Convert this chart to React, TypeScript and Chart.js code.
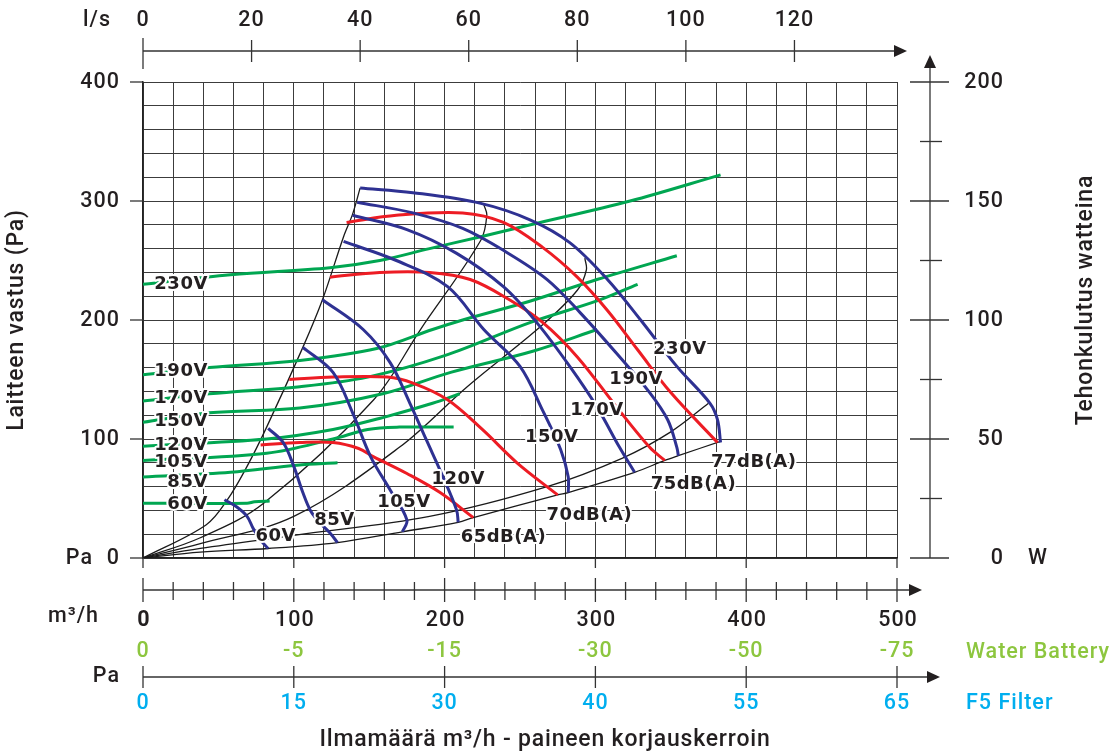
import React, { useEffect, useRef } from "react";
import { Chart, registerables } from "chart.js";

Chart.register(...registerables);

type Pt = [number, number];

// ---------- DATA (x = air flow m³/h, y = pressure Pa, green = power W) ----------
const BLUE_230V: Pt[] = [[144,311],[179,307],[224,298],[257,284],[283,265],[308,234],[330,200],[354,161],[376,130],[381,116],[383,97]];
const BLUE_190V: Pt[] = [[142,299],[179,290],[212,277],[241,257],[268,234],[290,206],[314,172],[336,139],[348,116],[354,93],[355,86]];
const BLUE_170V: Pt[] = [[139,288],[175,276],[208,256],[239,228],[261,198],[283,161],[301,127],[316,93],[326,72]];
const BLUE_150V: Pt[] = [[133,266],[168,250],[202,228],[226,192],[250,161],[265,124],[277,91],[282,68],[282,55]];
const BLUE_120V: Pt[] = [[119,217],[146,192],[164,164],[177,130],[188,99],[199,68],[208,40],[209,30]];
const BLUE_105V: Pt[] = [[106,177],[126,156],[139,122],[151,85],[164,57],[175,32],[172,22]];
const BLUE_85V: Pt[] = [[83,109],[93,97],[100,77],[106,55],[111,40],[117,30],[124,21],[129,13]];
const BLUE_60V: Pt[] = [[54,49],[62,43],[69,35],[73,25],[78,15],[83,8]];

const RED_77DB: Pt[] = [[135,282],[168,288],[212,290],[239,282],[265,261],[288,236],[308,208],[328,175],[350,139],[381,97]];
const RED_75DB: Pt[] = [[124,236],[157,240],[190,240],[217,234],[243,217],[265,198],[288,169],[314,127],[336,93],[346,82]];
const RED_70DB: Pt[] = [[97,150],[126,152],[162,152],[179,147],[202,133],[225,108],[248,80],[275,53]];
const RED_65DB: Pt[] = [[78,95],[104,97],[126,97],[143,92],[153,85],[175,71],[197,55],[219,34]];

const GREEN_230V: Pt[] = [[0,115],[58,119],[124,122],[157,125],[190,130],[224,135],[257,140],[323,150],[383,161]];
const GREEN_190V: Pt[] = [[0,77],[44,80],[104,83],[155,88],[192,96],[212,100],[257,108],[301,117],[354,127]];
const GREEN_170V: Pt[] = [[0,66],[44,69],[104,72],[149,76],[200,85],[257,99],[301,108],[328,115]];
const GREEN_150V: Pt[] = [[0,57],[44,61],[104,63],[159,69],[204,78],[259,87],[301,96]];
const GREEN_120V: Pt[] = [[0,47],[82,50],[126,54],[159,59],[192,65],[210,69]];
const GREEN_105V: Pt[] = [[0,41],[82,44],[126,50],[149,54],[170,55],[206,55]];
const GREEN_85V: Pt[] = [[0,34],[58,36],[102,39],[129,40]];
const GREEN_60V: Pt[] = [[0,23],[69,23],[74,23.6],[84,24]];

const SYS_1: Pt[] = [[0,0],[42,28],[56,49],[69,77],[82,110],[106,177],[119,217],[133,270],[139,289],[144,311]];
const SYS_2: Pt[] = [[0,0],[38,17],[80,46],[153,133],[184,192],[224,267],[228,288],[226,297]];
const SYS_3: Pt[] = [[0,0],[38,12],[100,35],[170,93],[215,144],[265,196],[288,225],[294,242],[293,252]];
const SYS_4: Pt[] = [[0,0],[38,8],[100,19],[190,35],[268,60],[318,84],[350,106],[375,130]];
const SYS_5: Pt[] = [[0,0],[38,5],[83,8],[129,13],[172,22],[209,30],[219,34],[275,53],[282,55],[326,72],[346,82],[355,86],[383,98]];

const VOLT_LABELS = ["230V","190V","170V","150V","120V","105V","85V","60V"];
const GREEN_LABEL_PA = [230,157,134,115,95,80,64,45];
const BLUE_LABEL_POS: Pt[] = [[356,175],[327,150],[301,124],[271,101],[209,66],[173,47],[127,32],[88,18]];
const DB_LABELS = ["77dB(A)","75dB(A)","70dB(A)","65dB(A)"];
const DB_LABEL_POS: Pt[] = [[405,80],[365,62],[296,36],[239,17]];

const FLOW_TICKS = [0,100,200,300,400,500];
const FLOW_LABELS = ["0","100","200","300","400","500"];
const LS_TICKS = [0,20,40,60,80,100,120];
const PA_TICKS = [0,100,200,300,400];
const W_MAJOR = [0,50,100,150,200];
const W_MINOR = [25,75,125,175];
const WATER_BATTERY = ["0","-5","-15","-30","-50","-75"];
const F5_FILTER = ["0","15","30","40","55","65"];

// ---------- STYLE ----------
const TEXT = "#231f20";
const BLUE = "#2e3192";
const RED = "#ed1c24";
const GREEN = "#00a651";
const WB_GREEN = "#8dc63f";
const F5_CYAN = "#00aeef";
const GRID = "#3c3c3c";
const FAM = "Roboto, 'Open Sans', sans-serif";
const AX_FONT = `500 21.5px ${FAM}`;
const LBL_FONT = "bold 18px 'DejaVu Sans', sans-serif";

function ds(pts: Pt[], color: string, width: number, axis = "y") {
  return {
    data: pts.map(([x, y]) => ({ x, y })),
    borderColor: color,
    borderWidth: width,
    pointRadius: 0,
    tension: 0.35,
    fill: false,
    yAxisID: axis,
  };
}

const datasets = [
  ...[BLUE_230V, BLUE_190V, BLUE_170V, BLUE_150V, BLUE_120V, BLUE_105V, BLUE_85V, BLUE_60V].map((p) => ds(p, BLUE, 3)),
  ...[RED_77DB, RED_75DB, RED_70DB, RED_65DB].map((p) => ds(p, RED, 3)),
  ...[GREEN_230V, GREEN_190V, GREEN_170V, GREEN_150V, GREEN_120V, GREEN_105V, GREEN_85V, GREEN_60V].map((p) => ds(p, GREEN, 3, "yW")),
  ...[SYS_1, SYS_2, SYS_3, SYS_4, SYS_5].map((p) => ds(p, "#1a1a1a", 1.3)),
];

function halo(ctx: CanvasRenderingContext2D, t: string, x: number, y: number, align: CanvasTextAlign) {
  ctx.textAlign = align;
  ctx.lineJoin = "round";
  ctx.lineWidth = 4;
  ctx.strokeStyle = "#fff";
  ctx.strokeText(t, x, y);
  ctx.fillStyle = TEXT;
  ctx.fillText(t, x, y);
}

function arrow(ctx: CanvasRenderingContext2D, x: number, y: number, dir: "right" | "up") {
  ctx.beginPath();
  if (dir === "right") {
    ctx.moveTo(x, y);
    ctx.lineTo(x - 13, y - 6);
    ctx.lineTo(x - 13, y + 6);
  } else {
    ctx.moveTo(x, y);
    ctx.lineTo(x - 6, y + 13);
    ctx.lineTo(x + 6, y + 13);
  }
  ctx.closePath();
  ctx.fill();
}

function line(ctx: CanvasRenderingContext2D, x1: number, y1: number, x2: number, y2: number) {
  ctx.beginPath();
  ctx.moveTo(x1, y1);
  ctx.lineTo(x2, y2);
  ctx.stroke();
}

function spacing(ctx: CanvasRenderingContext2D, v: string) {
  (ctx as any).letterSpacing = v;
}

const annot = {
  id: "annot",
  afterDraw(chart: any) {
    const ctx: CanvasRenderingContext2D = chart.ctx;
    const xs = chart.scales.x, ys = chart.scales.y, yw = chart.scales.yW;
    const X = (v: number) => xs.getPixelForValue(v);
    const Y = (v: number) => ys.getPixelForValue(v);
    const YW = (v: number) => yw.getPixelForValue(v);
    const L = chart.chartArea.left, R = chart.chartArea.right, B = chart.chartArea.bottom;
    ctx.save();

    // curve labels
    ctx.font = LBL_FONT;
    ctx.textBaseline = "middle";
    spacing(ctx, "0.5px");
    VOLT_LABELS.forEach((t, i) => halo(ctx, t, X(43), Y(GREEN_LABEL_PA[i]), "right"));
    VOLT_LABELS.forEach((t, i) => halo(ctx, t, X(BLUE_LABEL_POS[i][0]), Y(BLUE_LABEL_POS[i][1]), "center"));
    DB_LABELS.forEach((t, i) => halo(ctx, t, X(DB_LABEL_POS[i][0]), Y(DB_LABEL_POS[i][1]), "center"));

    ctx.strokeStyle = "#333";
    ctx.fillStyle = TEXT;
    ctx.lineWidth = 1.3;

    // short outer ticks of the grid
    PA_TICKS.forEach((p) => line(ctx, L - 13, Y(p), L, Y(p)));
    FLOW_TICKS.forEach((q) => line(ctx, X(q), B, X(q), B + 10));

    ctx.font = AX_FONT;
    spacing(ctx, "1px");
    ctx.textBaseline = "middle";
    // left axis labels
    ctx.textAlign = "right";
    PA_TICKS.forEach((p) => ctx.fillText(String(p), L - 23, Y(p) + 1));
    ctx.fillText("Pa", L - 50, Y(0) + 1);

    // top l/s axis
    const topY = 51;
    line(ctx, X(0), topY, R + 6, topY);
    arrow(ctx, R + 10, topY, "right");
    ctx.textAlign = "center";
    LS_TICKS.forEach((v, i) => {
      const x = X(v * 3.6);
      line(ctx, x, i === 0 ? topY - 13 : topY - 11, x, i === 0 ? topY + 18 : topY + 11);
      ctx.fillText(String(v), x, 21);
    });
    ctx.textAlign = "right";
    ctx.fillText("l/s", X(0) - 32, 21);

    // right W axis
    const rx = 930;
    line(ctx, rx, Y(0), rx, 62);
    arrow(ctx, rx, 55, "up");
    W_MAJOR.forEach((w) => line(ctx, rx - 20, YW(w), rx + 19, YW(w)));
    W_MINOR.forEach((w) => line(ctx, rx - 10, YW(w), rx + 12, YW(w)));
    ctx.textAlign = "right";
    W_MAJOR.forEach((w) => ctx.fillText(String(w), 1004, YW(w) + 1));
    ctx.textAlign = "center";
    ctx.fillText("W", 1038, YW(0) + 1);

    // bottom flow axis
    const by = 590;
    line(ctx, X(0), by, 910, by);
    arrow(ctx, 922, by, "right");
    for (let q = 0; q <= 500; q += 20) {
      const major = q % 100 === 0;
      line(ctx, X(q), major ? by - 12 : by - 8, X(q), major ? by + 12 : by + 10);
    }
    ctx.textAlign = "center";
    FLOW_LABELS.forEach((t, i) => {
      ctx.font = i === 0 ? `bold 21.5px ${FAM}` : AX_FONT;
      ctx.fillText(t, X(FLOW_TICKS[i]) + 1, 621);
    });
    ctx.font = AX_FONT;
    ctx.textAlign = "right";
    ctx.fillText("m³/h", 99, 617);

    // water battery / F5 filter rows
    ctx.textAlign = "center";
    ctx.fillStyle = WB_GREEN;
    WATER_BATTERY.forEach((t, i) => ctx.fillText(t, X(FLOW_TICKS[i]), 652));
    ctx.textAlign = "left";
    ctx.fillText("Water Battery", 966, 653);
    ctx.fillStyle = TEXT;
    const py = 677;
    line(ctx, X(0), py, 928, py);
    arrow(ctx, 940, py, "right");
    FLOW_TICKS.forEach((q) => line(ctx, X(q), py - 11, X(q), py + 11));
    ctx.textAlign = "right";
    ctx.fillText("Pa", 120, py);
    ctx.textAlign = "center";
    ctx.fillStyle = F5_CYAN;
    F5_FILTER.forEach((t, i) => ctx.fillText(t, X(FLOW_TICKS[i]), 704));
    ctx.textAlign = "left";
    ctx.fillText("F5 Filter", 966, 704);

    // titles
    ctx.fillStyle = TEXT;
    ctx.font = `500 23px ${FAM}`;
    spacing(ctx, "0.8px");
    ctx.textAlign = "center";
    ctx.fillText("Ilmamäärä m³/h - paineen korjauskerroin", 545, 740);

    ctx.save();
    ctx.translate(17, 320);
    ctx.rotate(-Math.PI / 2);
    ctx.fillText("Laitteen vastus (Pa)", 0, 0);
    ctx.restore();

    ctx.save();
    ctx.translate(1086, 300);
    ctx.rotate(-Math.PI / 2);
    ctx.fillText("Tehonkulutus watteina", 0, 0);
    ctx.restore();

    ctx.restore();
  },
};

export default function App() {
  const ref = useRef<HTMLCanvasElement>(null);
  useEffect(() => {
    const canvas = ref.current;
    if (!canvas) return;
    const chart = new Chart(canvas, {
      type: "line",
      data: { datasets: datasets as any },
      options: {
        animation: false,
        responsive: false,
        devicePixelRatio: 1,
        events: [],
        layout: { padding: { left: 143, right: 219, top: 82, bottom: 195 } },
        plugins: { legend: { display: false }, tooltip: { enabled: false } },
        scales: {
          x: {
            type: "linear",
            min: 0,
            max: 500,
            position: "bottom",
            ticks: { display: false, stepSize: 20 },
            grid: { color: GRID, lineWidth: 1, drawTicks: false },
            border: { display: true, color: "#222", width: 1.5 },
          },
          y: {
            type: "linear",
            min: 0,
            max: 400,
            position: "left",
            ticks: { display: false, stepSize: 20 },
            grid: { color: GRID, lineWidth: 1, drawTicks: false },
            border: { display: true, color: "#222", width: 1.5 },
          },
          yW: { type: "linear", min: 0, max: 200, display: false, position: "right" },
        },
      } as any,
      plugins: [annot as any],
    });
    return () => chart.destroy();
  }, []);
  return (
    <div style={{ position: "fixed", left: 0, top: 0, width: 1116, height: 753, background: "#fff" }}>
      <canvas ref={ref} width={1116} height={753} style={{ width: 1116, height: 753, display: "block" }} />
    </div>
  );
}
